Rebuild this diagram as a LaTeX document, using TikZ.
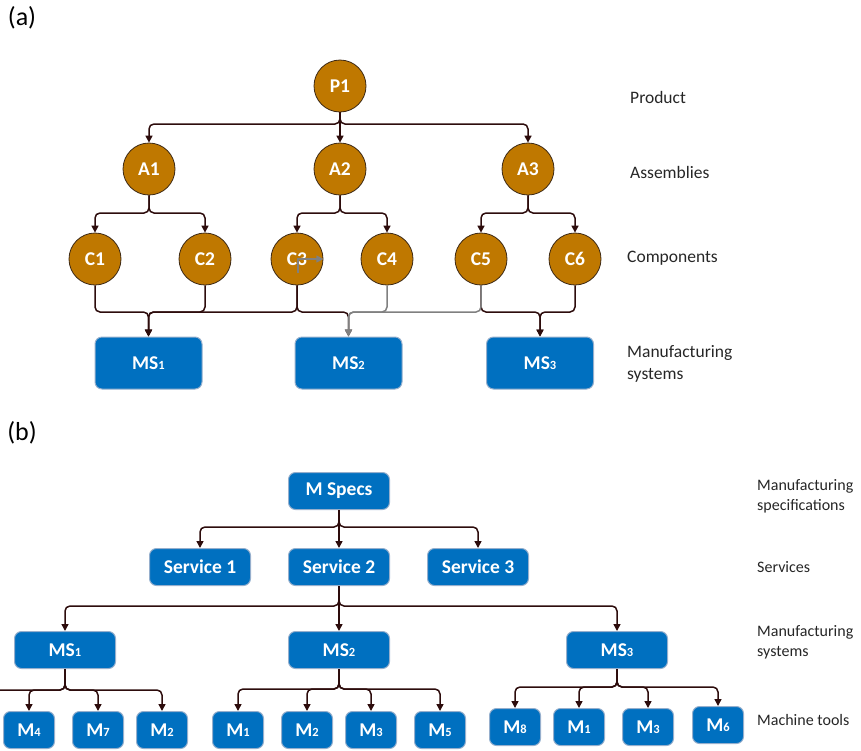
\documentclass[tikz,border=0pt]{standalone}
\usepackage{fontspec}
\setmainfont{Carlito}
\usetikzlibrary{arrows.meta}
\definecolor{circfill}{RGB}{191,120,0}
\definecolor{circdraw}{RGB}{60,40,20}
\definecolor{boxfill}{RGB}{0,112,192}
\definecolor{boxdraw}{RGB}{150,175,205}
\definecolor{linec}{RGB}{45,12,12}
\definecolor{grayc}{RGB}{128,128,128}
\newcommand\subx[1]{{\fontsize{12.5}{12}\selectfont #1}}
\tikzset{
  circnode/.style={circle, fill=circfill, draw=circdraw, line width=0.8pt, minimum size=52pt, inner sep=0pt,
    text=white, font=\bfseries\fontsize{19.5}{22}\selectfont},
  bluebox/.style={rectangle, rounded corners=7pt, fill=boxfill, draw=boxdraw, line width=1pt, inner sep=0pt,
    text=white, font=\bfseries\fontsize{19.5}{22}\selectfont},
  msa/.style={bluebox, minimum width=107pt, minimum height=52pt},
  msb/.style={bluebox, minimum width=101pt, minimum height=37pt},
  mtool/.style={bluebox, minimum width=51pt, minimum height=37pt},
  conn/.style={draw=linec, line width=1.5pt, rounded corners=5pt, -{Triangle[length=7pt,width=7pt]}},
  grayconn/.style={conn, draw=grayc, -{Triangle[length=7pt,width=7pt,fill=grayc]}},
  plain/.style={draw=linec, line width=1.5pt, rounded corners=5pt},
  lbla/.style={anchor=west, align=left, text=black!85, font=\fontsize{17.5}{22}\selectfont, inner sep=0pt},
  lblb/.style={anchor=west, align=left, text=black!85, font=\fontsize{16}{20}\selectfont, inner sep=0pt},
  panel/.style={font=\fontsize{26}{30}\selectfont, inner sep=0pt}
}
\begin{document}
\begin{tikzpicture}[x=1pt,y=-1pt]
\useasboundingbox (0,0) rectangle (861,750);
% ---------- (a) ----------
\node[panel] (pa) at (22,18) {(a)};
\node[circnode] (P1) at (340,86) {P1};
\node[circnode] (A1) at (149,169) {A1};
\node[circnode] (A2) at (340,169) {A2};
\node[circnode] (A3) at (528,169) {A3};
\node[circnode] (C1) at (95,259) {C1};
\node[circnode] (C2) at (205,259) {C2};
\node[circnode] (C3) at (297,259) {C3};
\node[circnode] (C4) at (387,259) {C4};
\node[circnode] (C5) at (481,259) {C5};
\node[circnode] (C6) at (575,259) {C6};
\node[msa] (MS1) at (148.5,363) {MS\subx{1}};
\node[msa] (MS2) at (348.5,363) {MS\subx{2}};
\node[msa] (MS3) at (540,363) {MS\subx{3}};
\node[lbla] (lp) at (630,97) {Product};
\node[lbla] (la) at (630,172) {Assemblies};
\node[lbla] (lc) at (627,258) {Components};
\node[lbla] (lm) at (627,364) {Manufacturing\\systems};
\coordinate (pbus) at (340,124);
\coordinate (a1bus) at (149,213);
\coordinate (a2bus) at (340,213);
\coordinate (a3bus) at (528,213);
\coordinate (m1) at (148.5,312);
\coordinate (m2) at (348.5,312);
\coordinate (m3) at (540,312);
\draw[conn] (P1.south) -- (pbus) -| (A1.north);
\draw[conn] (P1.south) -- (A2.north);
\draw[conn] (P1.south) -- (pbus) -| (A3.north);
\draw[conn] (A1.south) -- (a1bus) -| (C1.north);
\draw[conn] (A1.south) -- (a1bus) -| (C2.north);
\draw[conn] (A2.south) -- (a2bus) -| (C3.north);
\draw[conn] (A2.south) -- (a2bus) -| (C4.north);
\draw[conn] (A3.south) -- (a3bus) -| (C5.north);
\draw[conn] (A3.south) -- (a3bus) -| (C6.north);
\draw[conn] (C1.south) |- (m1) -- (MS1.north);
\draw[conn] (C2.south) |- (m1) -- (MS1.north);
\draw[conn] (C3.south) |- (m1) -- (MS1.north);
\draw[conn] (C3.south) |- (m2) -- (MS2.north);
\draw[conn] (C5.south) |- (m3) -- (MS3.north);
\draw[conn] (C6.south) |- (m3) -- (MS3.north);
\draw[grayconn] (C4.south) |- (m2) -- (MS2.north);
\draw[grayconn] (C5.south) |- (m2) -- (MS2.north);
\coordinate (c3a) at (298,273);
\draw[grayconn, line width=1.2pt, rounded corners=0pt] (c3a) |- (C3.east);
% ---------- (b) ----------
\node[panel] (pb) at (22,433) {(b)};
\node[msb] (MSp) at (339,491) {M Specs};
\node[msb] (S1) at (200,567) {Service 1};
\node[msb] (S2) at (339,567) {Service 2};
\node[msb] (S3) at (478,567) {Service 3};
\node[msb] (B1) at (65,650) {MS\subx{1}};
\node[msb] (B2) at (339,650) {MS\subx{2}};
\node[msb] (B3) at (617,650) {MS\subx{3}};
\node[mtool] (T4) at (29,730) {M\subx{4}};
\node[mtool] (T7) at (98,730) {M\subx{7}};
\node[mtool] (T2a) at (162,730) {M\subx{2}};
\node[mtool] (T1) at (238,730) {M\subx{1}};
\node[mtool] (T2b) at (307,730) {M\subx{2}};
\node[mtool] (T3) at (371,730) {M\subx{3}};
\node[mtool] (T5) at (440,730) {M\subx{5}};
\node[mtool] (T8) at (515,727) {M\subx{8}};
\node[mtool] (T1b) at (579,727) {M\subx{1}};
\node[mtool] (T3b) at (648,727) {M\subx{3}};
\node[mtool] (T6) at (718,725) {M\subx{6}};
\node[lblb] (lms) at (757,496) {Manufacturing\\specifications};
\node[lblb] (lsv) at (757,567) {Services};
\node[lblb] (lmsy) at (757,642) {Manufacturing\\systems};
\node[lblb] (lmt) at (757,720) {Machine tools};
\coordinate (sbus) at (339,527);
\coordinate (s2bus) at (339,606);
\coordinate (b1bus) at (65,690);
\coordinate (b2bus) at (339,689);
\coordinate (b3bus) at (617,687);
\coordinate (lefte) at (0,690);
\draw[conn] (MSp.south) -- (sbus) -| (S1.north);
\draw[conn] (MSp.south) -- (S2.north);
\draw[conn] (MSp.south) -- (sbus) -| (S3.north);
\draw[conn] (S2.south) -- (s2bus) -| (B1.north);
\draw[conn] (S2.south) -- (B2.north);
\draw[conn] (S2.south) -- (s2bus) -| (B3.north);
\draw[plain] (B1.south) -- (b1bus) -- (lefte);
\draw[conn] (B1.south) -- (b1bus) -| (T4.north);
\draw[conn] (B1.south) -- (b1bus) -| (T7.north);
\draw[conn] (B1.south) -- (b1bus) -| (T2a.north);
\draw[conn] (B2.south) -- (b2bus) -| (T1.north);
\draw[conn] (B2.south) -- (b2bus) -| (T2b.north);
\draw[conn] (B2.south) -- (b2bus) -| (T3.north);
\draw[conn] (B2.south) -- (b2bus) -| (T5.north);
\draw[conn] (B3.south) -- (b3bus) -| (T8.north);
\draw[conn] (B3.south) -- (b3bus) -| (T1b.north);
\draw[conn] (B3.south) -- (b3bus) -| (T3b.north);
\draw[conn] (B3.south) -- (b3bus) -| (T6.north);
\end{tikzpicture}
\end{document}
